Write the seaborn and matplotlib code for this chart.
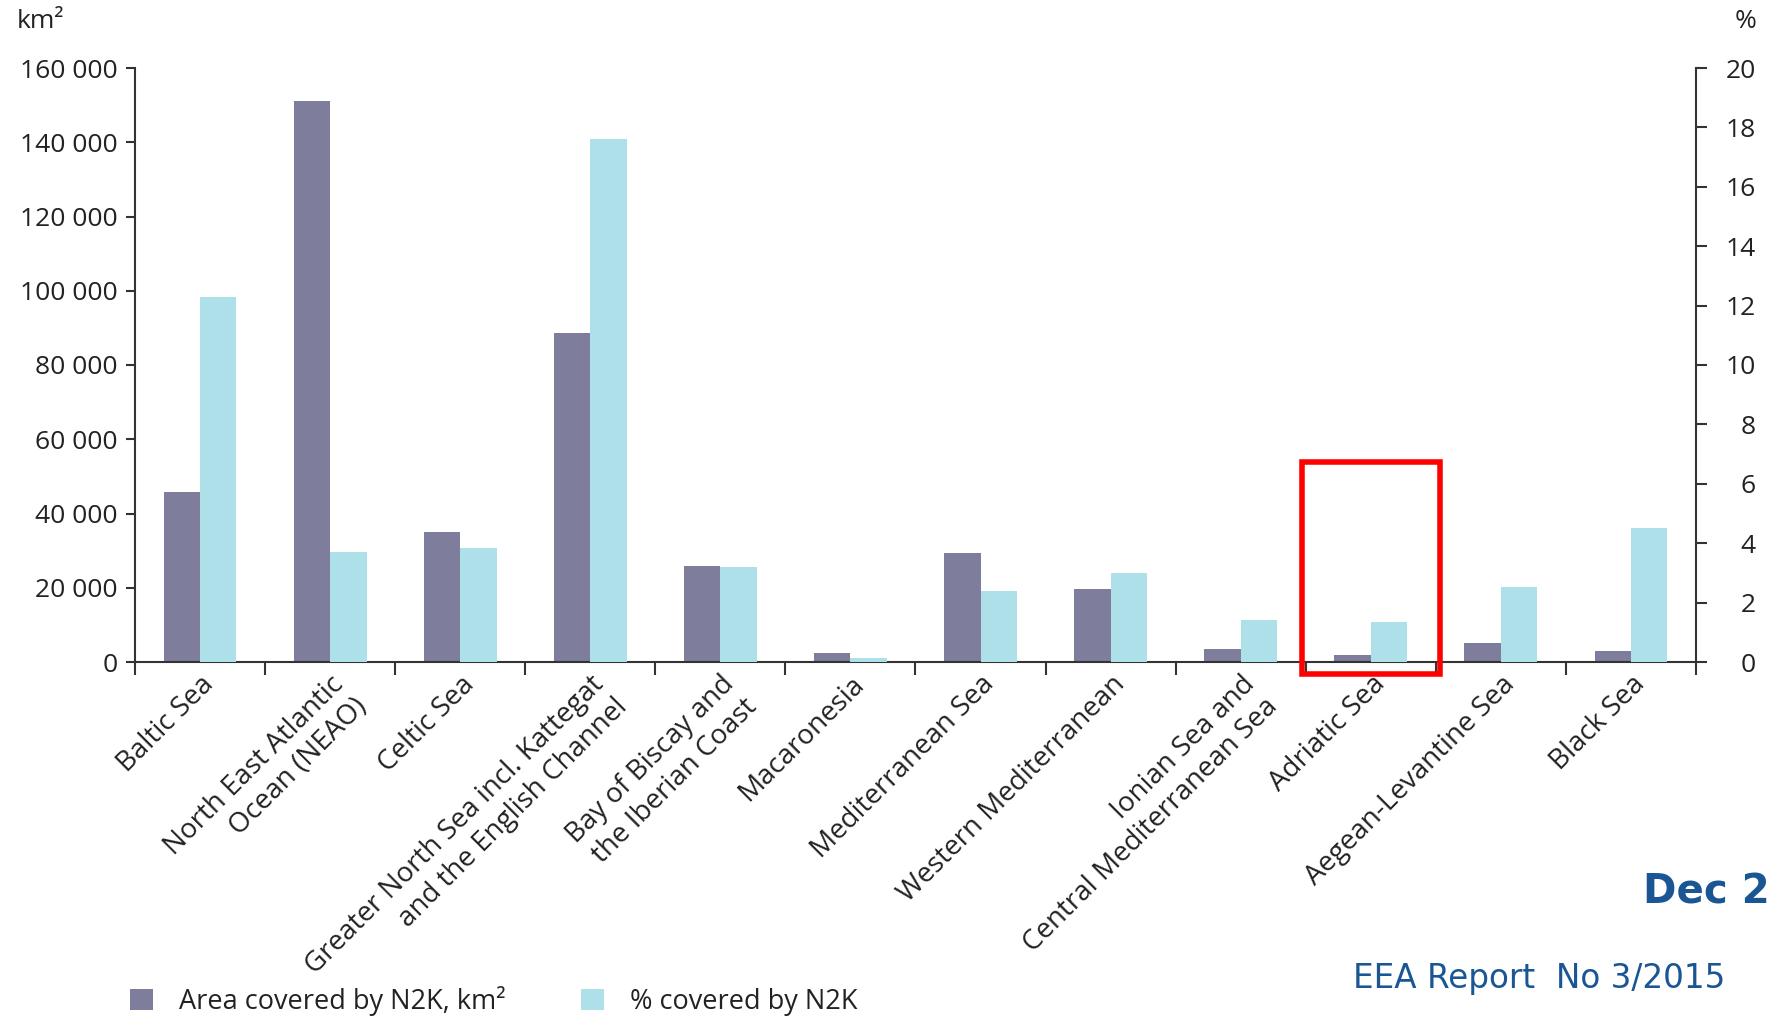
import numpy as np
import pandas as pd
import matplotlib
matplotlib.use("Agg")
import matplotlib.pyplot as plt
import seaborn as sns
from matplotlib.patches import Patch, Rectangle
from matplotlib.ticker import FuncFormatter, FixedLocator

# data
regions = [
    "Baltic Sea",
    "North East Atlantic\nOcean (NEAO)",
    "Celtic Sea",
    "Greater North Sea incl. Kattegat\nand the English Channel",
    "Bay of Biscay and\nthe Iberian Coast",
    "Macaronesia",
    "Mediterranean Sea",
    "Western Mediterranean",
    "Ionian Sea and\nCentral Mediterranean Sea",
    "Adriatic Sea",
    "Aegean-Levantine Sea",
    "Black Sea",
]
area_km2 = [45900, 151200, 34900, 88500, 25900, 2300, 29400, 19700, 3500, 1800, 5100, 3000]
pct_covered = [12.3, 3.7, 3.85, 17.6, 3.2, 0.12, 2.4, 3.0, 1.42, 1.33, 2.51, 4.52]

area_label = "Area covered by N2K, km\u00b2"
pct_label = "% covered by N2K"
series_order = [area_label, pct_label]
colors = {area_label: "#7f7d9c", pct_label: "#aee0ea"}

left_ticks = list(range(0, 160001, 20000))
right_ticks = list(range(0, 21, 2))

df_area = pd.DataFrame({"region": regions, "series": area_label, "value": area_km2})
df_pct = pd.DataFrame({"region": regions, "series": pct_label, "value": pct_covered})

sns.set_style("white")
plt.rcParams["font.family"] = ["Open Sans", "DejaVu Sans"]

W, H = 1771, 1016
fig = plt.figure(figsize=(W / 100, H / 100), dpi=100)
ax = fig.add_axes([135 / W, 1 - 662 / H, (1696 - 135) / W, (662 - 68) / H])
ax2 = ax.twinx()

# each series on its own axis, dodged as if both were in one group
sns.barplot(data=df_area, x="region", y="value", hue="series", hue_order=series_order,
            palette=colors, width=0.56, order=regions, ax=ax, legend=False,
            saturation=1, errorbar=None, dodge=True, linewidth=0, edgecolor="none")
sns.barplot(data=df_pct, x="region", y="value", hue="series", hue_order=series_order,
            palette=colors, width=0.56, order=regions, ax=ax2, legend=False,
            saturation=1, errorbar=None, dodge=True, linewidth=0, edgecolor="none")

ax.set_xlim(-0.5, len(regions) - 0.5)
ax.set_ylim(0, 160000)
ax2.set_ylim(0, 20)
ax.set_xlabel("")
ax.set_ylabel("")
ax2.set_ylabel("")

axis_col = "#333333"
txt_col = "#222222"
for a in (ax, ax2):
    for s in a.spines.values():
        s.set_color(axis_col)
        s.set_linewidth(1.5)
    a.spines["top"].set_visible(False)
ax.spines["right"].set_visible(False)
ax2.spines["left"].set_visible(False)
ax2.spines["bottom"].set_visible(False)

ax.yaxis.set_major_locator(FixedLocator(left_ticks))
ax.yaxis.set_major_formatter(FuncFormatter(lambda v, p: f"{int(v):,}".replace(",", " ")))
ax.tick_params(axis="y", direction="out", length=6.5, width=1.5, color=axis_col,
               labelsize=19, labelcolor=txt_col, pad=6, left=True)

ax2.yaxis.set_major_locator(FixedLocator(right_ticks))
ax2.tick_params(axis="y", direction="out", length=8, width=1.5, color=axis_col,
                labelsize=19, labelcolor=txt_col, pad=35, right=True)
for lab in ax2.get_yticklabels():
    lab.set_horizontalalignment("right")

# x: boundary ticks as minor, labels on major
ax.set_xticks(np.arange(-0.5, len(regions), 1.0), minor=True)
ax.set_xticks(range(len(regions)))
ax.set_xticklabels(regions, rotation=45, ha="right", va="top",
                   rotation_mode="anchor", ma="right", fontsize=20, color=txt_col)
ax.tick_params(axis="x", which="major", length=0, pad=6)
ax.tick_params(axis="x", which="minor", direction="out", length=9.5, width=1.5,
               color=axis_col, bottom=True)

# red highlight box round the Adriatic Sea
ax.add_patch(Rectangle((8.47, -3300), 1.06, 57200, fill=False, edgecolor="#ff0000",
                       linewidth=4, clip_on=False, zorder=5))

fig.text(17 / W, 1 - 22 / H, "km\u00b2", fontsize=19, color=txt_col, va="center", ha="left")
fig.text(1756 / W, 1 - 22 / H, "%", fontsize=19, color=txt_col, va="center", ha="right")

handles = [Patch(facecolor=colors[s], edgecolor="none") for s in series_order]
fig.legend(handles, series_order, loc="center left", bbox_to_anchor=(130 / W, 1 - 1001 / H),
           ncol=2, frameon=False, fontsize=19.5, handlelength=0.85, handleheight=0.85,
           handletextpad=0.95, columnspacing=2.8, borderpad=0, borderaxespad=0,
           labelcolor=txt_col)

blue = "#1b5694"
fig.text(1770 / W, 1 - 903 / H, "Dec 2", fontsize=29, fontweight="bold", color=blue,
         family="DejaVu Sans", ha="right", va="baseline")
fig.text(1353 / W, 1 - 988 / H, "EEA Report  No 3/2015", fontsize=23.5, color=blue,
         family="DejaVu Sans", ha="left", va="baseline")

fig.savefig("out.png", dpi=100)
